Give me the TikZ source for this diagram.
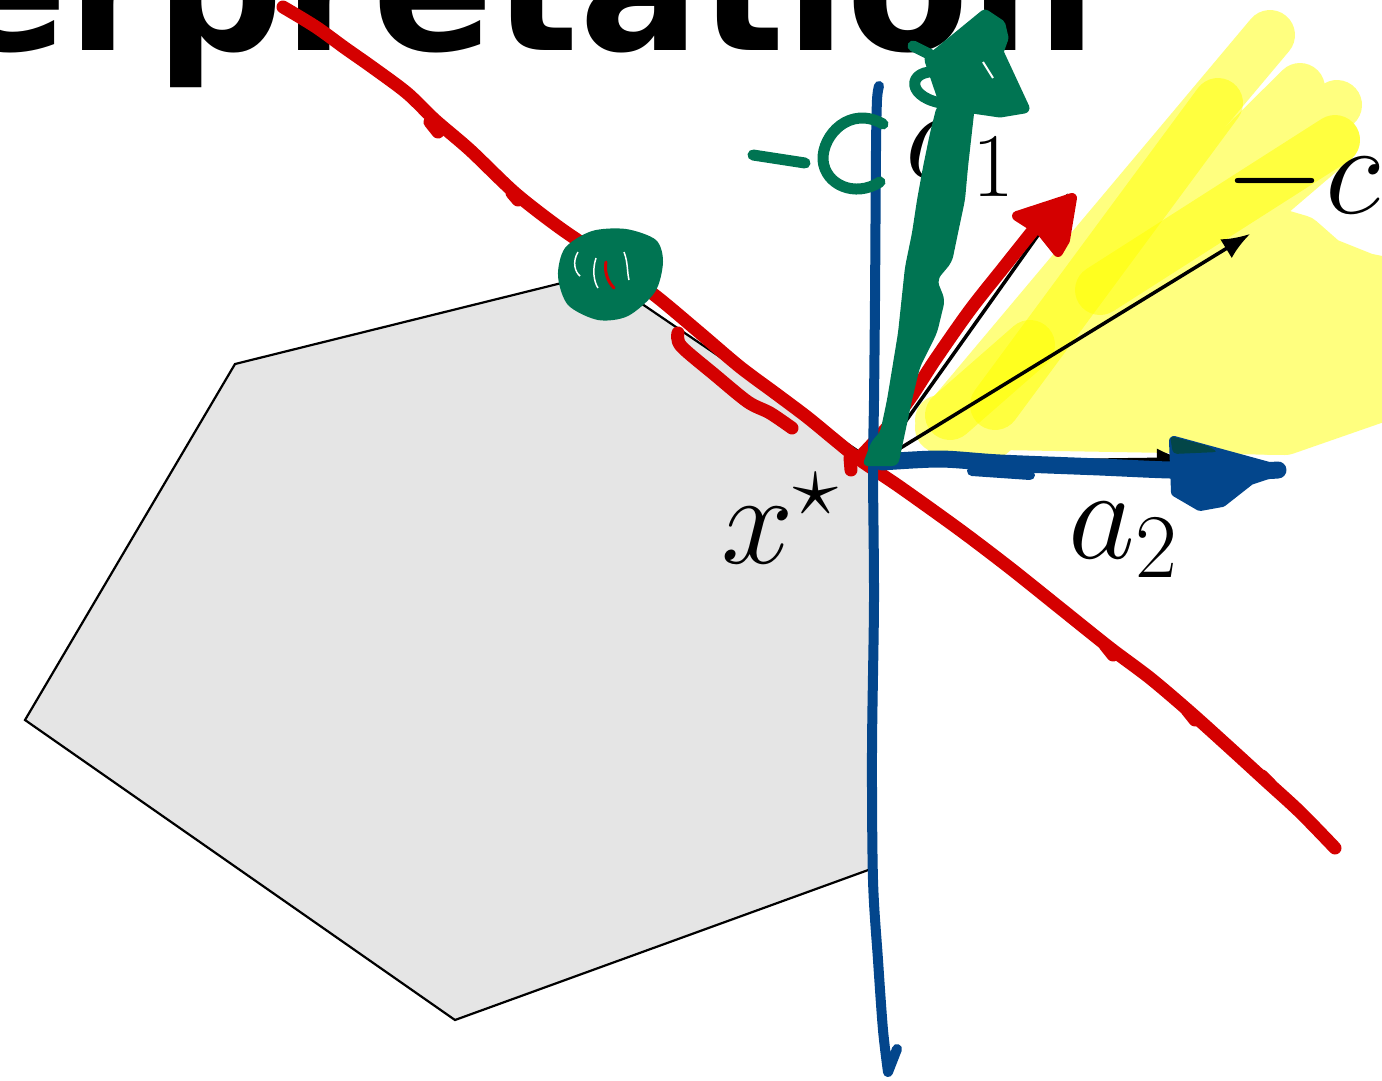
\RequirePackage{fix-cm}
\documentclass[tikz,border=0pt]{standalone}
\usepackage{fontspec}
\newfontfamily\titlefont{DejaVu Sans}
\usetikzlibrary{arrows.meta}
\definecolor{pred}{RGB}{212,0,0}
\definecolor{pblue}{RGB}{3,70,140}
\definecolor{pgreen}{RGB}{0,116,82}
\definecolor{pyellow}{RGB}{255,255,0}
\definecolor{pgray}{RGB}{229,229,229}
\definecolor{pteal}{RGB}{3,70,72}
\begin{document}
\begin{tikzpicture}[x=1pt,y=-1pt,
  hl/.style={draw=pyellow, line width=50pt, line cap=round, line join=round},
  pen/.style={line cap=round, line join=round},
  redpen/.style={pen, draw=pred, line width=13pt},
  bluepen/.style={pen, draw=pblue, line width=10pt},
  greenpen/.style={pen, draw=pgreen, line width=11pt},
  vec/.style={line width=3.5pt, -{Latex[length=28pt,width=22pt]}},
  lbl/.style={anchor=base west, inner sep=0pt, font=\fontsize{130}{130}\selectfont}]
\useasboundingbox (0,0) rectangle (1382,1080);
\clip (0,0) rectangle (1382,1080);

% title (cropped)
\node[anchor=base west, inner sep=0pt, font=\titlefont\bfseries\fontsize{179}{179}\selectfont] (title) at (-54,50) {erpretation};

% feasible polygon
\coordinate (xs) at (876,463);
\filldraw[fill=pgray, draw=black, line width=2.2pt] (25,720) -- (235,364) -- (598,274) -- (xs) -- (871,869) -- (455,1020) -- cycle;

% yellow highlight
\begin{scope}[transparency group, opacity=0.5]
  \draw[hl] (940,428) -- (1270,35);
  \draw[hl] (955,430) -- (1300,88);
  \draw[hl] (975,432) -- (1337,105);
  \draw[hl] (990,435) -- (1335,140);
  \draw[hl, fill=pyellow] (985,420) -- (1215,215) -- (1300,240) -- (1325,262) -- (1365,278) -- (1400,285) -- (1400,390) -- (1285,430) -- (1000,425) -- cycle;
  \fill[pyellow] (940,420) circle[radius=25pt] (990,415) circle[radius=25pt] (1053,418) circle[radius=25pt] (1110,420) circle[radius=25pt] (1173,418) circle[radius=25pt] (1270,430) circle[radius=25pt];
\end{scope}
\draw[hl, opacity=0.5] (995,405) -- (1218,103);
\draw[hl, opacity=0.5] (950,415) -- (1030,345);
\draw[hl, opacity=0.5] (1100,290) -- (1335,140);

% black vectors
\coordinate (ta1) at (1068,193);
\coordinate (tc) at (1250,234);
\coordinate (ta2) at (1185,459);
\draw[vec] (xs) -- (ta1);
\draw[vec] (xs) -- (tc);
\draw[vec] (xs) -- (ta2);

% labels
\node[lbl] (lxs) at (721,563) {$x^\star$};
\node[lbl] (la1) at (905,177) {$a_1$};
\node[lbl] (lmc) at (1224,213) {$-c$};
\node[lbl] (la2) at (1068,558) {$a_2$};

% red annotations
\draw[redpen] plot[smooth] coordinates {(283,7) (316,27) (345,48) (372,67) (407,93) (435,120) (470,150) (515,193) (560,228) (610,262) (657,297) (700,333) (740,367) (775,393) (807,417) (835,440) (860,460) (900,487) (960,530) (1010,568) (1060,608) (1110,648) (1150,678) (1190,712) (1230,748) (1265,780) (1300,812) (1335,848)};
\draw[redpen] (430,122) -- (438,132);
\draw[redpen] (512,193) -- (518,200);
\draw[redpen] (1105,645) -- (1113,655);
\draw[redpen] (1187,710) -- (1195,720);
\draw[redpen] (1262,776) -- (1270,784);
\draw[redpen] plot[smooth] coordinates {(678,333) (681,346) (715,375) (748,402) (770,413) (792,428)};
\draw[redpen] (850,458) -- (851,470);
\draw[redpen] plot[smooth] coordinates {(862,455) (885,430) (909,400) (935,360) (970,310) (1004,267) (1035,228)};
\draw[redpen, line width=10pt, fill=pred] (1017,216) -- (1072,198) -- (1065,240) -- (1058,252) -- (1042,232) -- cycle;

% blue annotations
\draw[bluepen] plot[smooth] coordinates {(879,86) (877,100) (876,150) (875,300) (874,400) (873,470) (874,600) (872,750) (873,880) (878,960) (883,1030) (888,1072)} -- (897,1049);
\draw[bluepen, line width=17pt] plot[smooth] coordinates {(882,462) (940,459) (1000,463) (1100,467) (1170,470) (1250,471) (1278,470)};
\draw[bluepen, line width=10pt] (972,471) -- (1030,475);
\draw[bluepen, fill=pblue] (1174,441) -- (1280,470) -- (1250,480) -- (1222,502) -- (1200,506) -- (1176,492) -- cycle;
\fill[pteal, rounded corners=4pt] (1170,436) -- (1208,446) -- (1218,452) -- (1173,454) -- cycle;

% green annotations
\fill[pgreen, rounded corners=6pt] (862,466) -- (872,440) -- (880,433) -- (887,400) -- (898,333) -- (905,267) -- (912,233) -- (917,200) -- (923,167) -- (930,133) -- (937,105) -- (975,105) -- (968,167) -- (965,200) -- (958,233) -- (952,262) -- (937,280) -- (945,300) -- (937,333) -- (920,367) -- (912,400) -- (905,433) -- (898,466) -- cycle;
\draw[greenpen, fill=pgreen] (930,60) -- (985,15) -- (1000,25) -- (1003,38) -- (998,52) -- (1024,108) -- (1000,112) -- (945,104) -- cycle;
\draw[greenpen] (913,46) -- (945,62);
\draw[greenpen] (940,72) .. controls (905,68) and (905,100) .. (948,104);
\draw[white, line width=2pt] (983,62) -- (993,78);
\draw[greenpen] (883,124) .. controls (850,105) and (822,135) .. (823,160) .. controls (825,185) and (855,198) .. (880,182);
\draw[greenpen] (753,155) -- (805,163);
\fill[pgreen] plot[smooth cycle] coordinates {(565,248) (592,231) (626,229) (656,240) (663,262) (655,292) (628,316) (598,320) (568,305) (558,276)};
\draw[white, line width=1.5pt] (578,252) .. controls (572,262) and (575,272) .. (580,276);
\draw[white, line width=1.5pt] (596,258) .. controls (592,270) and (594,282) .. (598,288);
\draw[white, line width=1.5pt] (624,252) .. controls (628,262) and (627,272) .. (629,280);
\draw[pred, line width=3pt, line cap=round] (606,262) .. controls (604,272) and (608,282) .. (614,288);
\end{tikzpicture}
\end{document}
